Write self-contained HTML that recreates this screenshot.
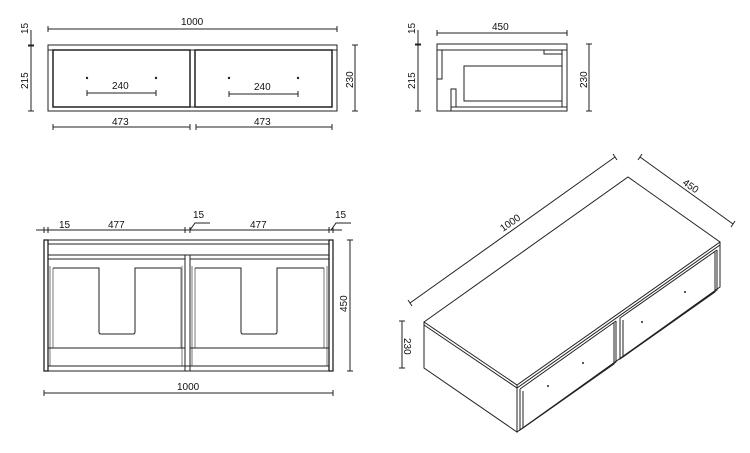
<!DOCTYPE html>
<html><head><style>body{margin:0;background:#fff}svg{display:block}text{font-family:"Liberation Sans",sans-serif;font-size:10px;fill:#111;stroke:none}</style></head><body>
<svg width="750" height="453" viewBox="0 0 750 453" xmlns="http://www.w3.org/2000/svg" fill="none" stroke="#222" stroke-width="1">
<!-- FRONT VIEW -->
<rect x="48" y="45" width="289" height="66"/>
<line x1="48" y1="50" x2="337" y2="50"/>
<rect x="53" y="50" width="137" height="57" stroke-width="1.5"/>
<rect x="195" y="50" width="137" height="57" stroke-width="1.5"/>
<line x1="53" y1="107" x2="332" y2="107"/>
<g fill="#222" stroke="none"><circle cx="87" cy="78" r="1.2"/><circle cx="156" cy="78" r="1.2"/><circle cx="229" cy="78" r="1.2"/><circle cx="298" cy="78" r="1.2"/></g>
<path d="M87 93H156M87 90v6M156 90v6M229 94H298M229 91v6M298 91v6"/>
<path d="M48 29H337M48 26v6M337 26v6"/>
<path d="M53 127H190M53 124v6M190 124v6M196 127H332M196 124v6M332 124v6"/>
<path d="M31 30V111M28 45h6M28 46h6M28 111h6"/>
<path d="M355 45V111M352 45h6M352 111h6"/>
<text x="181" y="25">1000</text>
<text x="112" y="89">240</text><text x="254" y="90">240</text>
<text x="112" y="125">473</text><text x="254" y="125">473</text>
<text transform="translate(28,34) rotate(-90)">15</text>
<text transform="translate(28,89) rotate(-90)">215</text>
<text transform="translate(353,88) rotate(-90)">230</text>
<!-- SIDE VIEW -->
<rect x="437" y="44" width="130" height="67"/>
<line x1="437" y1="50" x2="567" y2="50"/>
<rect x="437" y="50" width="5" height="29"/>
<rect x="544" y="50" width="18" height="4"/>
<rect x="562" y="50" width="5" height="57"/>
<rect x="464" y="66" width="98" height="35"/>
<rect x="451" y="89" width="5" height="18"/>
<rect x="451" y="107" width="116" height="4"/>
<path d="M437 33H567M437 30v6M567 30v6"/>
<path d="M418 30V111M415 44h6M415 45h6M415 111h6"/>
<path d="M589 44V111M586 44h6M586 111h6"/>
<text x="492" y="30">450</text>
<text transform="translate(415,34) rotate(-90)">15</text>
<text transform="translate(415,89) rotate(-90)">215</text>
<text transform="translate(587,88) rotate(-90)">230</text>
<!-- PLAN VIEW -->
<rect x="44" y="240" width="289" height="131"/>
<rect x="44" y="240" width="4" height="131" stroke-width="1.3"/>
<rect x="329" y="240" width="4" height="131" stroke-width="1.3"/>
<rect x="185" y="255" width="5" height="116"/>
<line x1="48" y1="244" x2="329" y2="244"/>
<line x1="48" y1="255" x2="329" y2="255"/>
<line x1="48" y1="259" x2="185" y2="259"/><line x1="190" y1="259" x2="329" y2="259"/>
<path d="M50 266V366M53 268V348M182 266V366M181 268V348M192 266V366M195 268V348M327 266V366M324 268V348" stroke="#777"/>
<path d="M53 268H99V332q0 2 2 2H133q2 0 2-2V268H181"/>
<path d="M195 268H241V332q0 2 2 2H275q2 0 2-2V268H324"/>
<line x1="48" y1="348" x2="185" y2="348"/><line x1="190" y1="348" x2="329" y2="348"/>
<line x1="48" y1="366" x2="329" y2="366"/>
<path d="M36 230H342M44 227v6M48 227v6M185 227v6M190 227v6M329 227v6M333 227v6"/>
<path d="M190 230l5-7h15M331 230l5-7h15"/>
<path d="M350 240V371M347 240h6M347 371h6"/>
<path d="M44 393H333M44 390v6M333 390v6"/>
<text x="59" y="228">15</text><text x="108" y="228">477</text><text x="250" y="228">477</text>
<text x="193" y="218">15</text><text x="335" y="218">15</text>
<text transform="translate(347,312) rotate(-90)">450</text>
<text x="177" y="390">1000</text>
<!-- ISO VIEW -->
<path d="M424 322L628 177L720 242L517 385Z"/>
<path d="M424 322v46L517 432V385M720 242v45L517 432"/>
<path d="M424 325L517 388L720 245"/>
<path d="M520 389V430L616 362V321M520 389L616 321M523 391V428L614 364V323"/>
<path d="M620 318V359L717 290V250M620 318L717 250M623 320V357L715 292V252"/>
<g fill="#222" stroke="none"><circle cx="548" cy="386" r="1"/><circle cx="583" cy="363" r="1"/><circle cx="642" cy="322" r="1"/><circle cx="685" cy="292" r="1"/></g>
<path d="M410 303L615 157M408 300l4 6M613 154l4 6"/>
<path d="M640 157L733 224M638 160l4-6M731 227l4-6"/>
<path d="M402 321V368M399 321h6M399 368h6"/>
<text transform="translate(503,232) rotate(-35)">1000</text>
<text transform="translate(682,184) rotate(35)">450</text>
<text transform="translate(404,338) rotate(90)">230</text>
</svg>
</body></html>
